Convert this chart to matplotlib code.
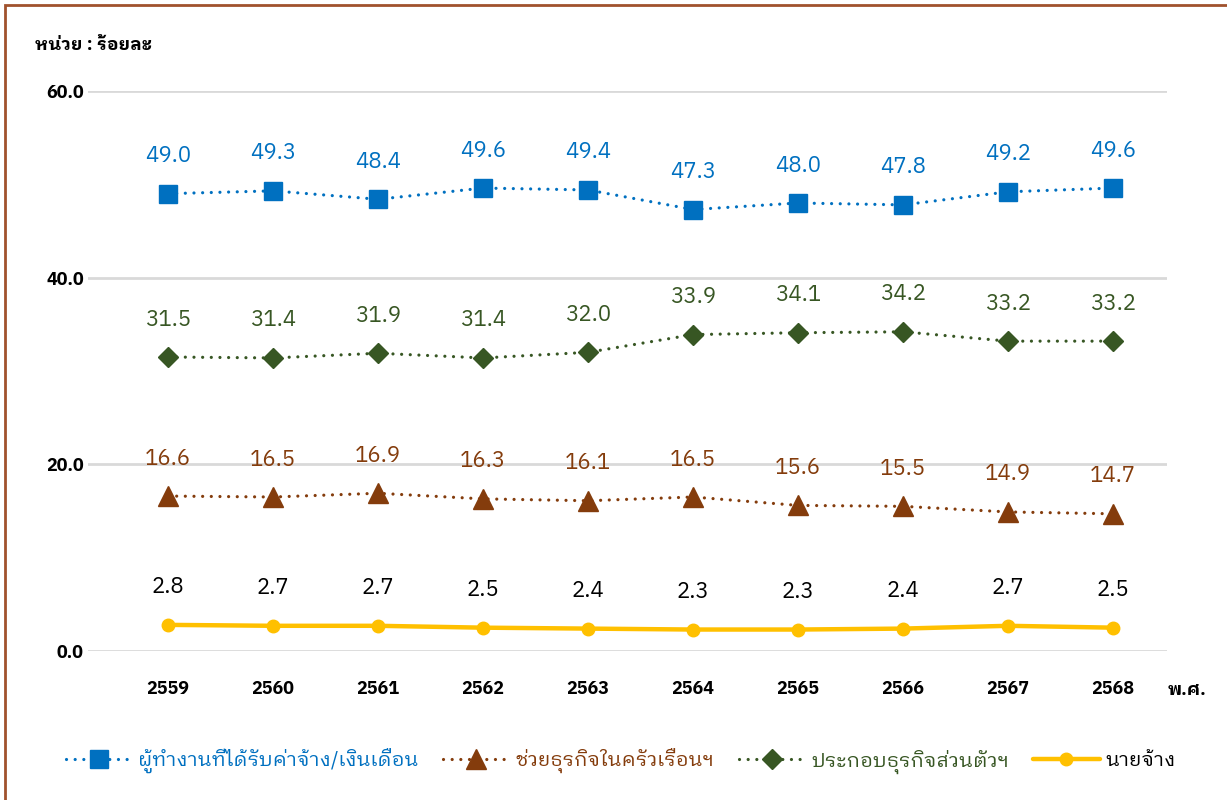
import matplotlib
matplotlib.use('Agg')
import matplotlib.pyplot as plt
from matplotlib.patches import Rectangle

plt.rcParams['font.family'] = ['IBM Plex Sans Thai Looped', 'DejaVu Sans']

# ข้อมูล
years = ['2559', '2560', '2561', '2562', '2563', '2564', '2565', '2566', '2567', '2568']
employee = [49.0, 49.3, 48.4, 49.6, 49.4, 47.3, 48.0, 47.8, 49.2, 49.6]
family_help = [16.6, 16.5, 16.9, 16.3, 16.1, 16.5, 15.6, 15.5, 14.9, 14.7]
own_account = [31.5, 31.4, 31.9, 31.4, 32.0, 33.9, 34.1, 34.2, 33.2, 33.2]
employer = [2.8, 2.7, 2.7, 2.5, 2.4, 2.3, 2.3, 2.4, 2.7, 2.5]

series_names = ['ผู้ทำงานที่ได้รับค่าจ้าง/เงินเดือน', 'ช่วยธุรกิจในครัวเรือนฯ',
                'ประกอบธุรกิจส่วนตัวฯ', 'นายจ้าง']
yticks = [0, 20, 40, 60]

BLUE = '#0070C0'
BROWN = '#843C0C'
GREEN = '#375623'
GOLD = '#FFC000'

fig = plt.figure(figsize=(12.27, 8), dpi=100)
ax = fig.add_axes([88 / 1227, 1 - 651 / 800, (1167 - 88) / 1227, (651 - 91) / 800])

x = list(range(len(years)))
dot = (0, (0.01, 2.7))

l1, = ax.plot(x, employee, color=BLUE, lw=2.3, ls=dot, dash_capstyle='round',
              marker='s', ms=13, mec=BLUE, mfc=BLUE, zorder=4)
l2, = ax.plot(x, family_help, color=BROWN, lw=2.3, ls=dot, dash_capstyle='round',
              marker='^', ms=14, mec=BROWN, mfc=BROWN, zorder=4)
l3, = ax.plot(x, own_account, color=GREEN, lw=2.3, ls=dot, dash_capstyle='round',
              marker='D', ms=10, mec=GREEN, mfc=GREEN, zorder=4)
l4, = ax.plot(x, employer, color=GOLD, lw=3.2, solid_capstyle='round',
              marker='o', ms=9, mec=GOLD, mfc=GOLD, zorder=4)

for vals, col in [(employee, BLUE), (family_help, BROWN), (own_account, GREEN), (employer, 'black')]:
    for xi, v in zip(x, vals):
        ax.annotate(f'{v:.1f}', (xi, v), xytext=(0, 27), textcoords='offset points',
                    ha='center', va='center', fontsize=16, color=col)

ax.set_xlim(-(168 - 88) / 105, 9 + (1167 - 1113) / 105)
ax.set_ylim(0, 60)
ax.set_yticks(yticks)
ax.set_yticklabels([f'{v:.1f}' for v in yticks], fontsize=13, fontweight='bold')
ax.set_xticks(x)
ax.set_xticklabels(years, fontsize=13, fontweight='bold')
ax.tick_params(length=0)
ax.tick_params(axis='x', pad=21)
ax.tick_params(axis='y', pad=3)
ax.grid(axis='y', color='#D9D9D9', lw=2)
ax.set_axisbelow(True)
for s in ax.spines.values():
    s.set_visible(False)

fig.text(1187 / 1227, 1 - 690 / 800, 'พ.ศ.', ha='center', va='center',
         fontsize=13, fontweight='bold')
fig.text(35 / 1227, 1 - 45 / 800, 'หน่วย : ร้อยละ', ha='left', va='center',
         fontsize=13, fontweight='bold')

leg = fig.legend([l1, l2, l3, l4], series_names, loc='center',
                 bbox_to_anchor=(621 / 1227, 1 - 761 / 800), ncol=4, frameon=False,
                 fontsize=14.5, handlelength=3.3, columnspacing=1.2, handletextpad=0.3)
for t, c in zip(leg.get_texts(), [BLUE, BROWN, GREEN, 'black']):
    t.set_color(c)

# กรอบรูป
fig.patches.append(Rectangle((5 / 1227, -0.05), 1.1, 0.05 + 1 - 5 / 800,
                             transform=fig.transFigure, fill=False,
                             edgecolor='#A0522D', lw=2, zorder=10))

fig.savefig('out.png', dpi=100)
